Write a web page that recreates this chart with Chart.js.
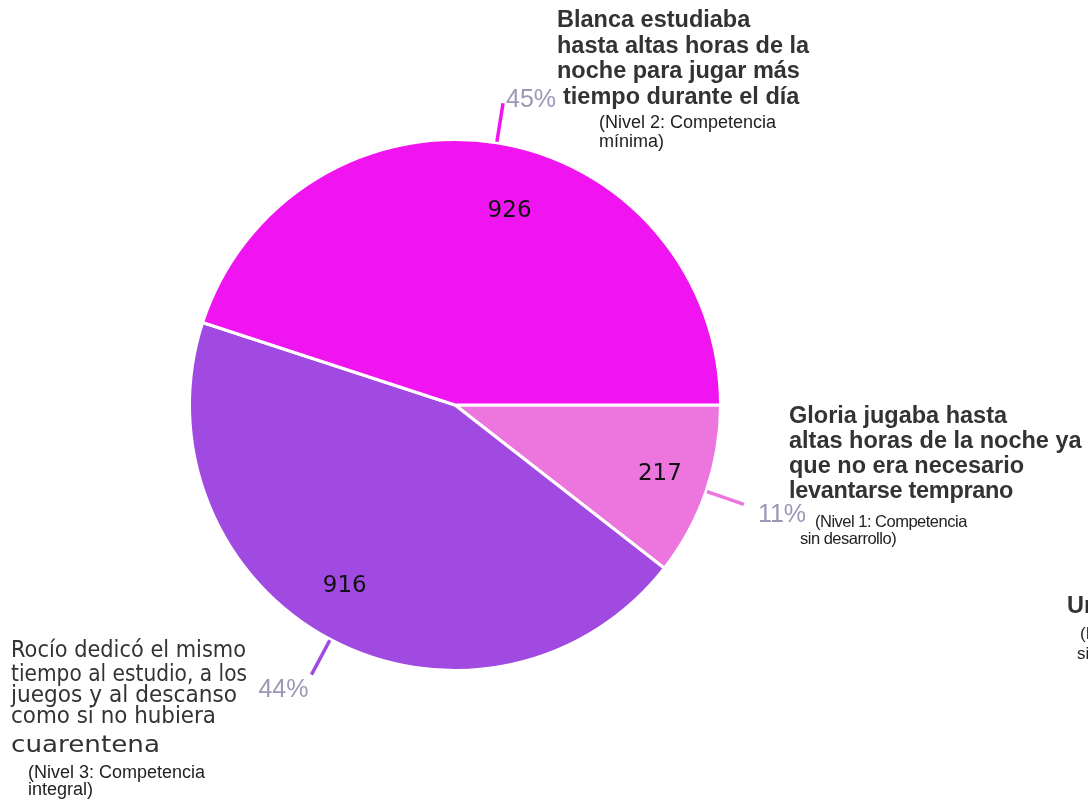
<!DOCTYPE html>
<html>
<head>
<meta charset="utf-8">
<script src="https://cdn.jsdelivr.net/npm/chart.js@4.4.1/dist/chart.umd.min.js"></script>
<style>
  html, body { margin: 0; padding: 0; background: #ffffff; }
  #wrap { width: 1088px; height: 801px; position: relative; overflow: hidden; }
</style>
</head>
<body>
<div id="wrap"><canvas id="c" width="1088" height="801"></canvas></div>
<script>
// ---- data ----
const categories = [
  'Gloria jugaba hasta altas horas de la noche ya que no era necesario levantarse temprano (Nivel 1: Competencia sin desarrollo)',
  'Rocío dedicó el mismo tiempo al estudio, a los juegos y al descanso como si no hubiera cuarentena (Nivel 3: Competencia integral)',
  'Blanca estudiaba hasta altas horas de la noche para jugar más tiempo durante el día (Nivel 2: Competencia mínima)',
  'Un día normal (Nivel 0: sin respuesta)'
];
const values = [217, 916, 926, 0];
const percentLabels = ['11%', '44%', '45%', ''];
const titleLines = [
  ['Gloria jugaba hasta', 'altas horas de la noche ya', 'que no era necesario', 'levantarse temprano'],
  ['Rocío dedicó el mismo', 'tiempo al estudio, a los', 'juegos y al descanso', 'como si no hubiera', 'cuarentena'],
  ['Blanca estudiaba', 'hasta altas horas de la', 'noche para jugar más', 'tiempo durante el día'],
  ['Un día normal']
];
const noteLines = [
  ['(Nivel 1: Competencia', 'sin desarrollo)'],
  ['(Nivel 3: Competencia', 'integral)'],
  ['(Nivel 2: Competencia', 'mínima)'],
  ['(Nivel 0: Sin', 'sin respuesta)']
];

// ---- styles / layout ----
const colors = ['#EC76DE', '#A04AE2', '#F014F0', '#CCCCCC'];
const textColor = '#333333';
const pctColor = '#9A98B6';
// value label nudges (dx, dy) relative to mid-angle point
const valueNudge = [[9, 2], [-13, -2], [22, 11], [0, 0]];
// percent label placement relative to leader end: dx, dy(baseline), align
const pctPlace = [[14, 18, 'left'], [-3, 22, 'right'], [3, 4, 'left'], [0, 0, 'left']];
// title blocks: x per line, first baseline, line gaps, font, spacing per line, optional fitted widths
const titleBlocks = [
  { xs: [789, 789, 789, 789], y: 423, gap: 25, font: 'bold 23.5px "Liberation Sans", Arial, sans-serif', ls: [0, 0, 0, -0.3] },
  { xs: [11, 11, 11, 11, 11], y: 657, gap: [0, 24, 21, 21, 29], font: '23px "DejaVu Sans", Verdana, sans-serif', ls: [0, 0, 0, 0, 0], fit: [235, 236, 226, 205, 149] },
  { xs: [557, 557, 557, 563], y: 27, gap: 25.5, font: 'bold 23.5px "Liberation Sans", Arial, sans-serif', ls: [0, 0, 0, 0] },
  { xs: [1067], y: 613, gap: 25, font: 'bold 23.5px "Liberation Sans", Arial, sans-serif', ls: [0] }
];
const noteBlocks = [
  { xs: [815, 800], y: 527, gap: 17, font: '16.5px "Liberation Sans", Arial, sans-serif', ls: -0.5 },
  { xs: [28, 28], y: 778, gap: 17, font: '18px "Liberation Sans", Arial, sans-serif', ls: 0 },
  { xs: [599, 599], y: 128, gap: 19, font: '18px "Liberation Sans", Arial, sans-serif', ls: 0 },
  { xs: [1080, 1077], y: 639, gap: 20, font: '17px "Liberation Sans", Arial, sans-serif', ls: 0 }
];

const labelPlugin = {
  id: 'pieLabels',
  afterDatasetsDraw(chart) {
    const ctx = chart.ctx;
    const meta = chart.getDatasetMeta(0);
    meta.data.forEach((arc, i) => {
      const p = arc.getProps(['x', 'y', 'startAngle', 'endAngle', 'outerRadius'], true);
      const mid = (p.startAngle + p.endAngle) / 2;
      const cos = Math.cos(mid), sin = Math.sin(mid);
      if (values[i] > 0) {
        // value label
        ctx.save();
        ctx.font = '23px "DejaVu Sans", Verdana, sans-serif';
        ctx.fillStyle = '#111111';
        ctx.textAlign = 'center';
        ctx.textBaseline = 'middle';
        const rv = p.outerRadius * 0.78;
        ctx.fillText(String(values[i]), p.x + cos * rv + valueNudge[i][0], p.y + sin * rv + valueNudge[i][1]);
        ctx.restore();
        // leader line
        const r1 = p.outerRadius + 1, r2 = p.outerRadius + 40;
        const ex = p.x + cos * r2, ey = p.y + sin * r2;
        ctx.save();
        ctx.strokeStyle = colors[i];
        ctx.lineWidth = 3.5;
        ctx.beginPath();
        ctx.moveTo(p.x + cos * r1, p.y + sin * r1);
        ctx.lineTo(ex, ey);
        ctx.stroke();
        ctx.restore();
        // percent
        ctx.save();
        ctx.font = '25px "Liberation Sans", Arial, sans-serif';
        ctx.fillStyle = pctColor;
        ctx.textAlign = pctPlace[i][2];
        ctx.textBaseline = 'alphabetic';
        ctx.fillText(percentLabels[i], ex + pctPlace[i][0], ey + pctPlace[i][1]);
        ctx.restore();
      }
      // category title
      const tb = titleBlocks[i];
      ctx.save();
      ctx.font = tb.font;
      ctx.fillStyle = textColor;
      ctx.textAlign = 'left';
      ctx.textBaseline = 'alphabetic';
      let y = tb.y;
      titleLines[i].forEach((line, k) => {
        if (k > 0) y += Array.isArray(tb.gap) ? tb.gap[k] : tb.gap;
        ctx.letterSpacing = (tb.ls[k] || 0) + 'px';
        if (tb.fit) {
          const w = ctx.measureText(line).width;
          const s = tb.fit[k] / w;
          ctx.save();
          ctx.translate(tb.xs[k], y);
          ctx.scale(s, 1);
          ctx.fillText(line, 0, 0);
          ctx.restore();
        } else {
          ctx.fillText(line, tb.xs[k], y);
        }
      });
      ctx.restore();
      // note
      const nb = noteBlocks[i];
      ctx.save();
      ctx.font = nb.font;
      ctx.fillStyle = '#222222';
      ctx.textAlign = 'left';
      ctx.letterSpacing = nb.ls + 'px';
      noteLines[i].forEach((line, k) => {
        ctx.fillText(line, nb.xs[k], nb.y + k * nb.gap);
      });
      ctx.restore();
    });
  }
};

new Chart(document.getElementById('c'), {
  type: 'pie',
  data: {
    labels: categories,
    datasets: [{
      data: values,
      backgroundColor: colors,
      borderColor: '#ffffff',
      borderWidth: 3,
      hoverOffset: 0
    }]
  },
  options: {
    responsive: false,
    animation: false,
    rotation: 90,
    layout: { padding: { left: 188, right: 366, top: 138, bottom: 129 } },
    plugins: { legend: { display: false }, tooltip: { enabled: false } }
  },
  plugins: [labelPlugin]
});
</script>
</body>
</html>
